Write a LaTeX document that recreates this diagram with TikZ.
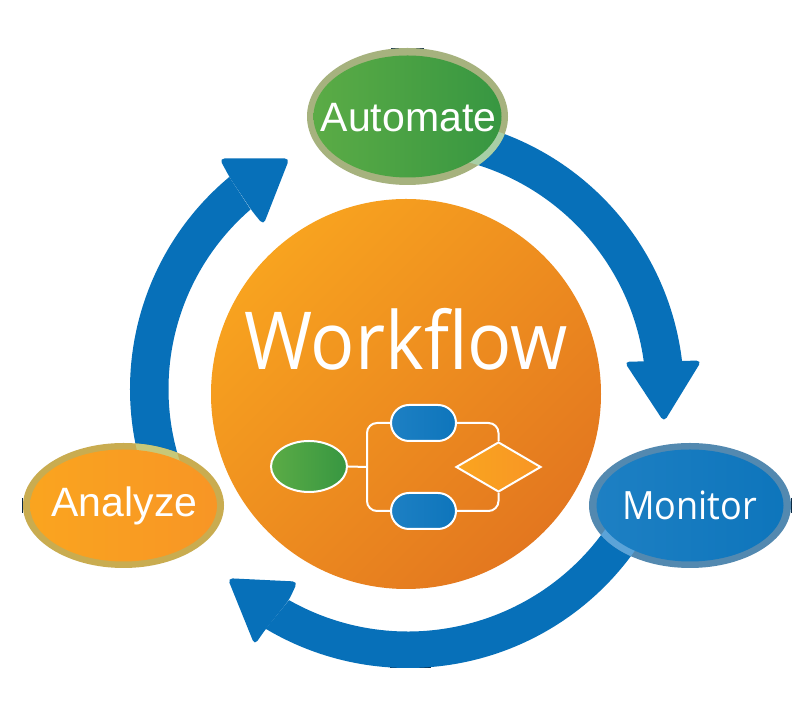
\documentclass[tikz,border=0pt]{standalone}
\usepackage{graphicx}
\usepackage{fontspec}
\setmainfont{Liberation Sans}
\newfontfamily\opensansface{Open Sans}
\usetikzlibrary{shapes.geometric,shapes.misc}
\definecolor{bandblue}{HTML}{0770B9}
\definecolor{darkmark}{HTML}{0B2A44}
\definecolor{flowA}{HTML}{2585C7}
\definecolor{flowB}{HTML}{0670B8}
\definecolor{orangeA}{HTML}{F8A31F}
\definecolor{orangeB}{HTML}{E3771F}
\definecolor{ringA}{HTML}{A6B27E}
\definecolor{ringAb}{HTML}{A8CFA6}
\definecolor{innerAa}{HTML}{6DB648}
\definecolor{innerAb}{HTML}{258C3F}
\definecolor{ringM}{HTML}{5389B0}
\definecolor{ringMb}{HTML}{5BA3D8}
\definecolor{ringZ}{HTML}{C9AC50}
\definecolor{ringZb}{HTML}{C8C878}
\definecolor{innerZa}{HTML}{FBAC1C}
\definecolor{innerZb}{HTML}{F78E28}
\pgfdeclarehorizontalshading{gradgreen}{100bp}{color(0bp)=(innerAa); color(100bp)=(innerAb)}
\pgfdeclarehorizontalshading{gradblue}{100bp}{color(0bp)=(flowA); color(100bp)=(flowB)}
\pgfdeclarehorizontalshading{gradorange}{100bp}{color(0bp)=(innerZa); color(100bp)=(innerZb)}
\tikzset{
  band/.style={fill=bandblue,draw=none},
  headtip/.style={fill=bandblue,draw=none,rounded corners=5pt},
  bubble/.style={ellipse,inner sep=0pt,outer sep=0pt,draw=none},
  caption/.style={text=white,anchor=base,inner sep=0pt},
  flow/.style={draw=white,line width=2pt},
  flowline/.style={draw=white,line width=2pt,rounded corners=10pt},
  pill/.style={rounded rectangle,flow,minimum width=65pt,minimum height=36pt,inner sep=0pt,shade,shading=gradblue},
  artifact/.style={draw=darkmark,line width=0.8pt},
  rightc/.style={shift={(406,320)}},
  bottomc/.style={shift={(408,324)}},
  leftc/.style={shift={(406,325)}}
}
\newcommand{\shaftright}{(75:278) arc[start angle=75,end angle=6.6,radius=278] -- (7.66:240) arc[start angle=7.66,end angle=75,radius=240] -- cycle}
\newcommand{\shaftbottom}{(-30:278) arc[start angle=-30,end angle=-120.8,radius=278] -- (-119.5:241.5) arc[start angle=-119.5,end angle=-30,radius=241.5] -- cycle}
\newcommand{\shaftleft}{(200:276) arc[start angle=200,end angle=129.8,radius=276] -- (130.9:237.5) arc[start angle=130.9,end angle=200,radius=237.5] -- cycle}
\begin{document}
\begin{tikzpicture}[x=1pt,y=1pt]
\useasboundingbox (0,0) rectangle (812,714);
\fill[white] (0,0) rectangle (812,714);
% small dark marks
\draw[artifact] (391,666) -- (424,666);
\draw[artifact] (390,46.8) -- (431,46.8);
\draw[artifact] (791.3,216) -- (791.3,201);
\draw[artifact] (22.7,216) -- (22.7,201);
% arrows
\fill[band,rightc] \shaftright;
\fill[band,bottomc] \shaftbottom;
\fill[band,leftc] \shaftleft;
\fill[headtip] (701.6,353.4) -- (664,292) -- (624.3,352.3) -- cycle;
\fill[headtip] (297.6,132.4) -- (227.6,135.8) -- (254.6,69) -- (265,84) -- (289,114) -- cycle;
\fill[headtip] (219.4,555.5) -- (289.5,555.7) -- (263.4,489) -- (252,503) -- (230,536) -- cycle;
% centre
\node[circle,minimum size=390pt,inner sep=0pt,outer sep=0pt,top color=orangeA,bottom color=orangeB,shading angle=45] (workflow) at (406,320) {};
\node[caption] (workflowLabel) at (406,344) {\opensansface\scalebox{0.92}[1]{\fontsize{80}{80}\selectfont Workflow}};
% Automate
\node[bubble,fill=ringA,minimum width=201pt,minimum height=137pt] (automateRing) at (407.5,597.5) {};
\begin{scope}
  \clip (407.5,597.5) ellipse[x radius=100.5,y radius=68.5];
  \fill[ringAb,rightc] \shaftright;
\end{scope}
\node[bubble,shade,shading=gradgreen,minimum width=188pt,minimum height=122pt] (automate) at (407.5,597.5) {};
\node[caption] (automateLabel) at (408.5,582) {\fontsize{41}{41}\selectfont Automate};
% Monitor
\node[bubble,fill=ringM,minimum width=202pt,minimum height=125pt] (monitorRing) at (690,208.5) {};
\begin{scope}
  \clip (690,208.5) ellipse[x radius=101,y radius=62.5];
  \fill[ringMb,bottomc] \shaftbottom;
\end{scope}
\node[bubble,shade,shading=gradblue,minimum width=187pt,minimum height=112pt] (monitor) at (690,208.5) {};
\node[caption] (monitorLabel) at (689.5,194) {\opensansface\scalebox{0.925}[1]{\fontsize{39}{39}\selectfont Monitor}};
% Analyze
\node[bubble,fill=ringZ,minimum width=201pt,minimum height=125pt] (analyzeRing) at (123.5,208.5) {};
\begin{scope}
  \clip (123.5,208.5) ellipse[x radius=100.5,y radius=62.5];
  \fill[ringZb,leftc] \shaftleft;
\end{scope}
\node[bubble,shade,shading=gradorange,minimum width=187pt,minimum height=112pt] (analyze) at (123.5,208.5) {};
\node[caption] (analyzeLabel) at (124.5,197) {\fontsize{41}{41}\selectfont Analyze};
% small flow chart
\coordinate (trunk) at (367,247);
\node[ellipse,flow,inner sep=0pt,minimum width=76pt,minimum height=51pt,shade,shading=gradgreen] (startShape) at (309,247.5) {};
\node[pill] (pillTop) at (423.5,291) {};
\node[pill] (pillBot) at (423.5,203) {};
\node[diamond,flow,inner sep=0pt,minimum width=85pt,minimum height=50pt,shade,shading=gradorange] (decide) at (498.5,247) {};
\draw[flowline] (startShape.east) -- (trunk);
\draw[flowline] (pillTop.west) -| (trunk) |- (pillBot.west);
\draw[flowline] (pillTop.east) -| (decide.north);
\draw[flowline] (pillBot.east) -| (decide.south);
\end{tikzpicture}
\end{document}
